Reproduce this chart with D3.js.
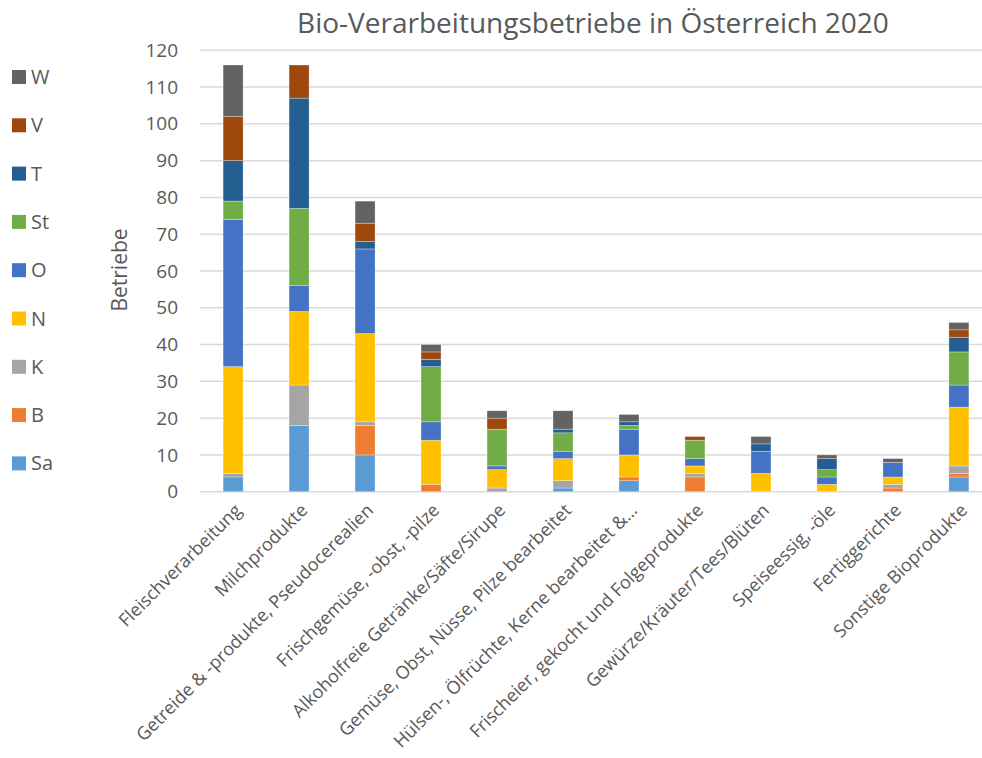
<!DOCTYPE html>
<html>
<head lang="de">
    <meta charset="UTF-8">
    <title>Bio-Verarbeitungsbetriebe in Österreich 2020</title>
    <script type="text/javascript" src="https://cdn.jsdelivr.net/npm/d3@7/dist/d3.min.js"></script>
    <style>
        body { margin: 0; background: #fff; }
        text { font-family: "Open Sans", "Noto Sans", sans-serif; fill: #595959; }
    </style>
</head>
<body>
<svg width="982" height="758"></svg>

<script>
    var categories = ["Fleischverarbeitung", "Milchprodukte", "Getreide & -produkte, Pseudocerealien",
        "Frischgemüse, -obst, -pilze", "Alkoholfreie Getränke/Säfte/Sirupe", "Gemüse, Obst, Nüsse, Pilze bearbeitet",
        "Hülsen-, Ölfrüchte, Kerne bearbeitet &...", "Frischeier, gekocht und Folgeprodukte",
        "Gewürze/Kräuter/Tees/Blüten", "Speiseessig, -öle", "Fertiggerichte", "Sonstige Bioprodukte"];

    // series, bottom to top
    var seriesNames = ["Sa", "B", "K", "N", "O", "St", "T", "V", "W"];
    var Sa = [4, 18, 10, 0, 0, 1, 3, 0, 0, 0, 0, 4];
    var B  = [0, 0, 8, 2, 0, 0, 1, 4, 0, 0, 1, 1];
    var K  = [1, 11, 1, 0, 1, 2, 0, 1, 0, 0, 1, 2];
    var N  = [29, 20, 24, 12, 5, 6, 6, 2, 5, 2, 2, 16];
    var O  = [40, 7, 23, 5, 1, 2, 7, 2, 6, 2, 4, 6];
    var St = [5, 21, 0, 15, 10, 5, 1, 5, 0, 2, 0, 9];
    var T  = [11, 30, 2, 2, 0, 1, 1, 0, 2, 3, 0, 4];
    var V  = [12, 9, 5, 2, 3, 0, 0, 1, 0, 0, 0, 2];
    var W  = [14, 0, 6, 2, 2, 5, 2, 0, 2, 1, 1, 2];
    var seriesColors = ["#5B9BD5", "#ED7D31", "#A5A5A5", "#FFC000", "#4472C4", "#70AD47", "#255E91", "#9E480E", "#636363"];

    var yTicks = [0, 10, 20, 30, 40, 50, 60, 70, 80, 90, 100, 110, 120];

    var values = [Sa, B, K, N, O, St, T, V, W];
    var rows = categories.map(function (c, i) {
        var r = {cat: c};
        seriesNames.forEach(function (s, j) { r[s] = values[j][i]; });
        return r;
    });

    var svg = d3.select("svg");

    var x = d3.scaleBand().domain(categories).range([200, 992]).paddingInner(0.697).paddingOuter(0.35);
    var y = d3.scaleLinear().domain([0, 120]).range([491.7, 50.3]);
    var color = d3.scaleOrdinal().domain(seriesNames).range(seriesColors);

    // gridlines
    svg.append("g").selectAll("line").data(yTicks).enter().append("line")
            .attr("x1", 200).attr("x2", 982)
            .attr("y1", function (d) { return y(d); })
            .attr("y2", function (d) { return y(d); })
            .attr("stroke", "#d9d9d9").attr("stroke-width", 1.5);

    // y axis labels
    var yAxis = svg.append("g").attr("transform", "translate(178,0)")
            .call(d3.axisLeft(y).tickValues(yTicks).tickSize(0).tickPadding(0));
    yAxis.select(".domain").remove();
    yAxis.selectAll("text").style("font-size", "19px").attr("fill", "#595959")
            .style("font-family", "'Open Sans', 'Noto Sans', sans-serif");

    // stacked bars
    var stacked = d3.stack().keys(seriesNames)(rows);
    svg.append("g").selectAll("g").data(stacked).enter().append("g")
            .attr("fill", function (d) { return color(d.key); })
            .selectAll("rect").data(function (d) { return d; }).enter().append("rect")
            .attr("x", function (d) { return x(d.data.cat); })
            .attr("width", x.bandwidth())
            .attr("y", function (d) { return y(d[1]); })
            .attr("height", function (d) { return y(d[0]) - y(d[1]); })
            .attr("stroke", "#ffffff").attr("stroke-opacity", 0.5).attr("stroke-width", 0.6);

    // x labels, rotated
    svg.append("g").selectAll("text").data(categories).enter().append("text")
            .attr("transform", function (d) {
                return "translate(" + (x(d) + x.bandwidth() / 2 + 5) + ",507) rotate(-45)";
            })
            .attr("text-anchor", "end")
            .attr("dy", "0.35em")
            .style("font-size", "18px")
            .text(function (d) { return d; });

    // title
    svg.append("text").attr("x", 593).attr("y", 33).attr("text-anchor", "middle")
            .style("font-size", "28px").text("Bio-Verarbeitungsbetriebe in Österreich 2020");

    // y axis title
    svg.append("text").attr("transform", "translate(127,270) rotate(-90)")
            .attr("text-anchor", "middle").style("font-size", "21px").text("Betriebe");

    // legend, top item is last series
    var legendItems = seriesNames.slice().reverse();
    var legend = svg.append("g").selectAll("g").data(legendItems).enter().append("g")
            .attr("transform", function (d, i) { return "translate(12," + (70 + i * 48.3) + ")"; });
    legend.append("rect").attr("width", 14).attr("height", 14)
            .attr("fill", function (d) { return color(d); });
    legend.append("text").attr("x", 19).attr("y", 7).attr("dy", "0.35em")
            .style("font-size", "20px").text(function (d) { return d; });
</script>
</body>
</html>
